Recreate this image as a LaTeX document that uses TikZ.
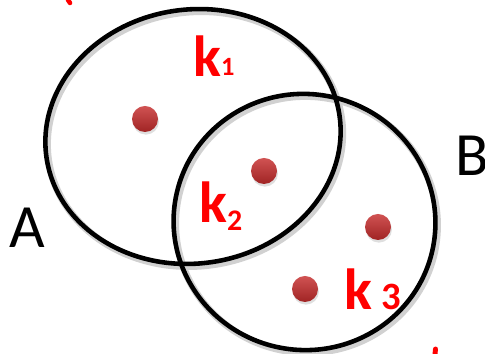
\documentclass[tikz,border=0pt]{standalone}
\usepackage{fontspec}
\newfontfamily\setfont{Carlito}
\usetikzlibrary{shadows}
\definecolor{dotred}{RGB}{200,52,52}
\definecolor{dotdark}{RGB}{160,36,36}
\tikzset{
  setline/.style={draw=black, line width=2.6pt},
  setshadow/.style={draw=black!18, line width=4pt},
  dot/.style={circle, inner sep=0pt, minimum size=0.52cm, top color=dotred!85!white, bottom color=dotdark, drop shadow={opacity=0.25, shadow xshift=0.5pt, shadow yshift=-1.5pt}},
  setname/.style={font=\setfont\fontsize{35}{35}\selectfont, inner sep=0pt},
  hand/.style={text=red, font=\setfont\bfseries\fontsize{33}{33}\selectfont, inner sep=0pt}
}
\begin{document}
\begin{tikzpicture}
  \useasboundingbox (0,0) rectangle (9.7,7.08);

  % Sets A and B
  \draw[setshadow] (3.90,4.30) ellipse[x radius=2.96, y radius=2.54, rotate=8];
  \draw[setshadow] (6.13,2.59) ellipse[x radius=2.62, y radius=2.56, rotate=-10];
  \draw[setline] (3.86,4.35) ellipse[x radius=2.96, y radius=2.54, rotate=8];
  \draw[setline] (6.09,2.64) ellipse[x radius=2.62, y radius=2.56, rotate=-10];
  \node[setname, anchor=base west] (A) at (0.18,2.12) {A};
  \node[setname, anchor=base west] (B) at (9.10,3.56) {B};

  % Points
  \node[dot] (d1) at (2.90,4.70) {};
  \node[dot] (d2) at (5.28,3.66) {};
  \node[dot] (d3) at (7.56,2.54) {};
  \node[dot] (d4) at (6.10,1.30) {};

  % Handwritten keys
  \node[hand, anchor=base west] (k1) at (3.86,5.54) {k\raisebox{1pt}{\fontsize{15}{15}\selectfont 1}};
  \node[hand, anchor=base west] (k2) at (3.98,2.62) {k\raisebox{-4pt}{\fontsize{17}{17}\selectfont 2}};
  \node[hand, anchor=base west] (k3) at (6.88,0.88) {k\,\raisebox{0pt}{\fontsize{22}{22}\selectfont 3}};

  % stray ink at the edges
  \draw[red, line width=2.6pt, line cap=round] (1.36,7.08) -- (1.40,7.02);
  \draw[red, line width=2.8pt, line cap=round] (8.70,0.00) -- (8.71,0.10);
\end{tikzpicture}
\end{document}
